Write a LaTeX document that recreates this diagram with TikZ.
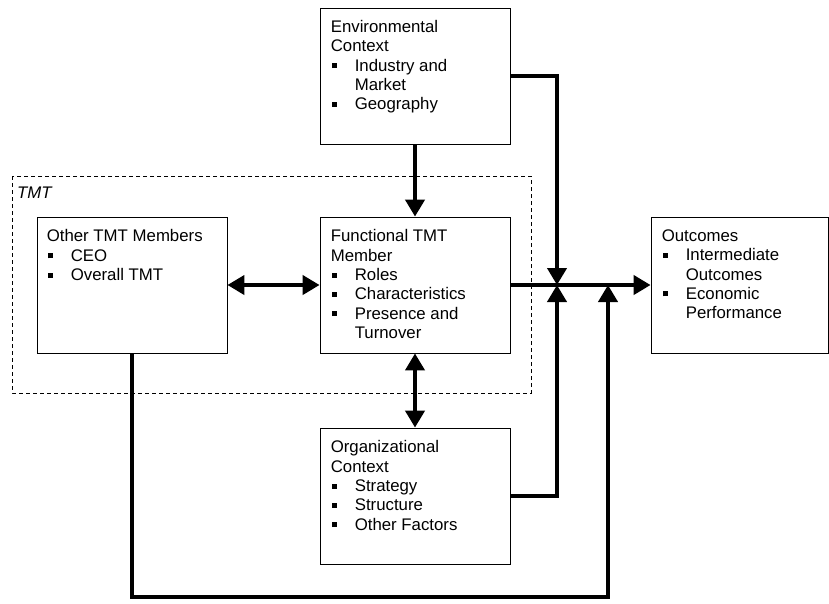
\documentclass[tikz,border=0pt]{standalone}
\usepackage{fontspec}
\setmainfont{Liberation Sans}
\usetikzlibrary{arrows.meta}
\newcommand{\bul}{\makebox[24pt][l]{\hspace{1pt}\rule[3pt]{5pt}{5pt}}}
\newcommand{\hang}{\hspace*{24pt}}
\begin{document}
\begin{tikzpicture}[
      x=1pt, y=-1pt,
      font=\fontsize{16.8}{19.3}\selectfont,
      box/.style={draw, line width=0.8pt, minimum width=190pt, minimum height=136pt, inner sep=0pt},
      txt/.style={anchor=north west, inner sep=0pt, align=left},
      link/.style={-{Triangle[width=19pt,length=17pt]}, line width=4pt},
      biglink/.style={{Triangle[width=19pt,length=17pt]}-{Triangle[width=19pt,length=17pt]}, line width=4pt}
    ]
      \useasboundingbox (0,0) rectangle (829,603);
      \draw[dashed, dash pattern=on 4pt off 3pt, line width=0.8pt] (12,176) rectangle (531,393);
      \node[anchor=base west, inner sep=0pt, font=\fontsize{16.8}{19.3}\selectfont\itshape] (tmtlabel) at (17,198) {TMT};

      \node[box] (env) at (415,76) {};
      \node[txt] (envtxt) at ([xshift=11pt, yshift=-12.5pt]env.north west) {Environmental\\Context\\\bul Industry and\\\hang Market\\\bul Geography};
      \node[box] (other) at (132,285) {};
      \node[txt] (othertxt) at ([xshift=10pt, yshift=-13pt]other.north west) {Other TMT Members\\\bul CEO\\\bul Overall TMT};
      \node[box] (func) at (415,285) {};
      \node[txt] (functxt) at ([xshift=11pt, yshift=-13pt]func.north west) {Functional TMT\\Member\\\bul Roles\\\bul Characteristics\\\bul Presence and\\\hang Turnover};
      \node[box] (org) at (415,496) {};
      \node[txt] (orgtxt) at ([xshift=11pt, yshift=-13pt]org.north west) {Organizational\\Context\\\bul Strategy\\\bul Structure\\\bul Other Factors};
      \node[box, minimum width=177pt] (out) at (739.5,285) {};
      \node[txt] (outtxt) at ([xshift=11pt, yshift=-13pt]out.north west) {Outcomes\\\bul Intermediate\\\hang Outcomes\\\bul Economic\\\hang Performance};

      \coordinate (knot) at (557,285);
      \coordinate (knotb) at (608,285);

      \draw[link] (env) -- (func);
      \draw[biglink] (other) -- (func);
      \draw[biglink] (func) -- (org);
      \draw[link] (func) -- (out);
      \draw[link] (env.east) -| (knot);
      \draw[link] (org.east) -| (knot);
      \draw[link] (other.south) -- ++(0,244) -| (knotb);
    \end{tikzpicture}
\end{document}
